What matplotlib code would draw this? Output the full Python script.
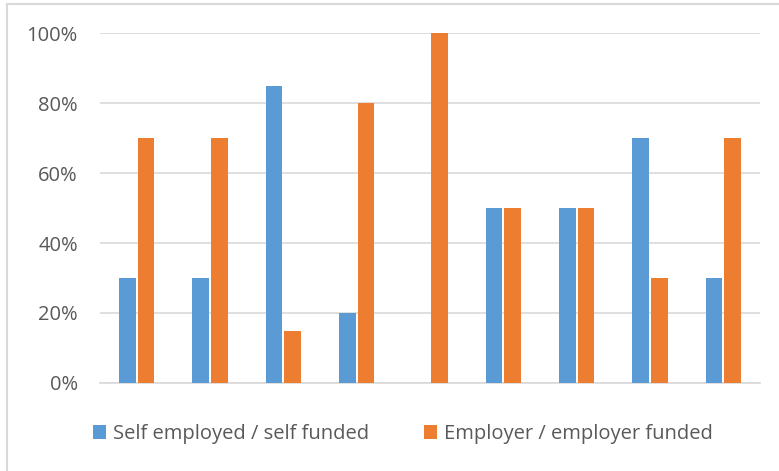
import numpy as np
import matplotlib
matplotlib.use("Agg")
import matplotlib.pyplot as plt
from matplotlib.patches import Rectangle
from matplotlib.ticker import PercentFormatter

# Data

groups = list(range(9))
self_funded = [30, 30, 85, 20, 0, 50, 50, 70, 30]
employer_funded = [70, 70, 15, 80, 100, 50, 50, 30, 70]

blue = "#5B9BD5"
orange = "#ED7D31"
text_color = "#595959"

plt.rcParams["font.family"] = ["Open Sans", "DejaVu Sans"]

fig = plt.figure(figsize=(7.79, 4.71), dpi=100)
ax = fig.add_axes([100 / 779, 1 - 383 / 471, 660 / 779, 350 / 471])

# Chart border
fig.patches.append(Rectangle(
    (7 / 779, -0.05), 1.0, 1 - 4 / 471 + 0.05,
    transform=fig.transFigure, fill=False,
    edgecolor="#D9D9D9", linewidth=1.5
))

x = np.arange(len(groups))
w = 0.23

ax.bar(x - 0.128, self_funded, width=w, color=blue,
       label="Self employed / self funded", zorder=3)
ax.bar(x + 0.128, employer_funded, width=w, color=orange,
       label="Employer / employer funded", zorder=3)

ax.set_xlim(-0.5, len(groups) - 0.5)
ax.set_ylim(0, 100)
ax.set_yticks(range(0, 101, 20))
ax.yaxis.set_major_formatter(PercentFormatter(decimals=0))
ax.set_xticks([])

ax.grid(axis="y", color="#D9D9D9", linewidth=1.2, zorder=0)
for s in ["top", "right", "left"]:
    ax.spines[s].set_visible(False)
ax.spines["bottom"].set_color("#D9D9D9")
ax.spines["bottom"].set_linewidth(1.2)

ax.tick_params(axis="y", length=0, pad=16, labelsize=14.5, labelcolor=text_color)

leg = fig.legend(
    loc="center", bbox_to_anchor=(403 / 779, 1 - 434 / 471), ncol=2,
    frameon=False, fontsize=14.5, handlelength=0.65, handleheight=0.65,
    handletextpad=0.35, columnspacing=2.75
)
for t in leg.get_texts():
    t.set_color(text_color)

plt.savefig("out.png", dpi=100)
plt.close()
